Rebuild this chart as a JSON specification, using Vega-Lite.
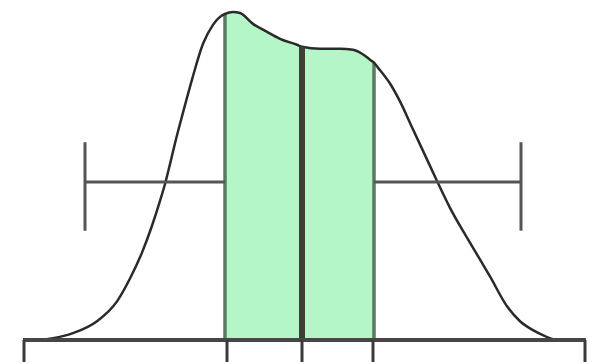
{
  "$schema": "https://vega.github.io/schema/vega-lite/v6.json",
  "width": 600,
  "height": 364,
  "autosize": {"type": "fit", "contains": "padding"},
  "padding": 0,
  "background": "white",
  "config": {"view": {"stroke": null}},
  "datasets": {
    "curve": [
      {"x": 25, "d": 0}, {"x": 40, "d": 0.5}, {"x": 53, "d": 2}, {"x": 73, "d": 7},
      {"x": 97, "d": 19}, {"x": 117, "d": 39}, {"x": 130, "d": 62}, {"x": 142, "d": 88},
      {"x": 152, "d": 115}, {"x": 160, "d": 140}, {"x": 165, "d": 157}, {"x": 170, "d": 177},
      {"x": 175, "d": 198}, {"x": 182, "d": 225}, {"x": 192, "d": 262}, {"x": 203, "d": 298},
      {"x": 213, "d": 317}, {"x": 220, "d": 325}, {"x": 225, "d": 328}, {"x": 233, "d": 330},
      {"x": 240, "d": 329}, {"x": 253, "d": 318}, {"x": 267, "d": 310}, {"x": 280, "d": 303},
      {"x": 297, "d": 297}, {"x": 302, "d": 295}, {"x": 320, "d": 293}, {"x": 340, "d": 293},
      {"x": 353, "d": 292}, {"x": 362, "d": 288}, {"x": 370, "d": 282}, {"x": 374, "d": 279},
      {"x": 378, "d": 274}, {"x": 390, "d": 258}, {"x": 400, "d": 240}, {"x": 412, "d": 214},
      {"x": 425, "d": 186}, {"x": 437, "d": 160}, {"x": 450, "d": 133}, {"x": 467, "d": 103},
      {"x": 483, "d": 76}, {"x": 490, "d": 64}, {"x": 507, "d": 34}, {"x": 520, "d": 19},
      {"x": 533, "d": 10}, {"x": 545, "d": 4}, {"x": 553, "d": 1}, {"x": 570, "d": 0}
    ],
    "segs": [
      {"kind": "edge", "x": 225, "x2": 225, "y": 0, "y2": 328},
      {"kind": "edge", "x": 374, "x2": 374, "y": 0, "y2": 279},
      {"kind": "median", "x": 302, "x2": 302, "y": 0, "y2": 295},
      {"kind": "whisker", "x": 85, "x2": 225, "y": 159, "y2": 159},
      {"kind": "whisker", "x": 374, "x2": 521, "y": 159, "y2": 159},
      {"kind": "whisker", "x": 85, "x2": 85, "y": 110, "y2": 199},
      {"kind": "whisker", "x": 521, "x2": 521, "y": 110, "y2": 199},
      {"kind": "axis", "x": 23, "x2": 586, "y": 0, "y2": 0},
      {"kind": "tick", "x": 24, "x2": 24, "y": 0, "y2": -22},
      {"kind": "tick", "x": 227, "x2": 227, "y": 0, "y2": -22},
      {"kind": "tick", "x": 302, "x2": 302, "y": 0, "y2": -22},
      {"kind": "tick", "x": 373, "x2": 373, "y": 0, "y2": -22},
      {"kind": "tick", "x": 585, "x2": 585, "y": 0, "y2": -22}
    ]
  },
  "resolve": {"scale": {"x": "shared", "y": "shared"}},
  "layer": [
    {
      "data": {"name": "curve"},
      "transform": [{"filter": "datum.x >= 225 && datum.x <= 374"}],
      "mark": {"type": "area", "color": "#b4f6c8", "interpolate": "monotone"},
      "encoding": {
        "x": {"field": "x", "type": "quantitative", "scale": {"domain": [0, 600], "nice": false, "zero": false}, "axis": null},
        "y": {"field": "d", "type": "quantitative", "scale": {"domain": [-22, 342], "nice": false, "zero": false}, "axis": null},
        "y2": {"datum": 0}
      }
    },
    {
      "data": {"name": "segs"},
      "transform": [{"filter": "datum.kind == 'edge'"}],
      "mark": {"type": "rule", "color": "#5b7a62", "strokeWidth": 3.5},
      "encoding": {
        "x": {"field": "x", "type": "quantitative"},
        "x2": {"field": "x2"},
        "y": {"field": "y", "type": "quantitative"},
        "y2": {"field": "y2"}
      }
    },
    {
      "data": {"name": "curve"},
      "mark": {"type": "line", "color": "#2a2a2a", "strokeWidth": 2.5, "interpolate": "monotone"},
      "encoding": {
        "x": {"field": "x", "type": "quantitative"},
        "y": {"field": "d", "type": "quantitative"}
      }
    },
    {
      "data": {"name": "segs"},
      "transform": [{"filter": "datum.kind == 'whisker'"}],
      "mark": {"type": "rule", "color": "#555555", "strokeWidth": 3},
      "encoding": {
        "x": {"field": "x", "type": "quantitative"},
        "x2": {"field": "x2"},
        "y": {"field": "y", "type": "quantitative"},
        "y2": {"field": "y2"}
      }
    },
    {
      "data": {"name": "segs"},
      "transform": [{"filter": "datum.kind == 'median'"}],
      "mark": {"type": "rule", "color": "#3c4034", "strokeWidth": 6},
      "encoding": {
        "x": {"field": "x", "type": "quantitative"},
        "x2": {"field": "x2"},
        "y": {"field": "y", "type": "quantitative"},
        "y2": {"field": "y2"}
      }
    },
    {
      "data": {"name": "segs"},
      "transform": [{"filter": "datum.kind == 'axis'"}],
      "mark": {"type": "rule", "color": "#464646", "strokeWidth": 4},
      "encoding": {
        "x": {"field": "x", "type": "quantitative"},
        "x2": {"field": "x2"},
        "y": {"field": "y", "type": "quantitative"},
        "y2": {"field": "y2"}
      }
    },
    {
      "data": {"name": "segs"},
      "transform": [{"filter": "datum.kind == 'tick'"}],
      "mark": {"type": "rule", "color": "#3a3a3a", "strokeWidth": 3},
      "encoding": {
        "x": {"field": "x", "type": "quantitative"},
        "x2": {"field": "x2"},
        "y": {"field": "y", "type": "quantitative"},
        "y2": {"field": "y2"}
      }
    }
  ]
}
